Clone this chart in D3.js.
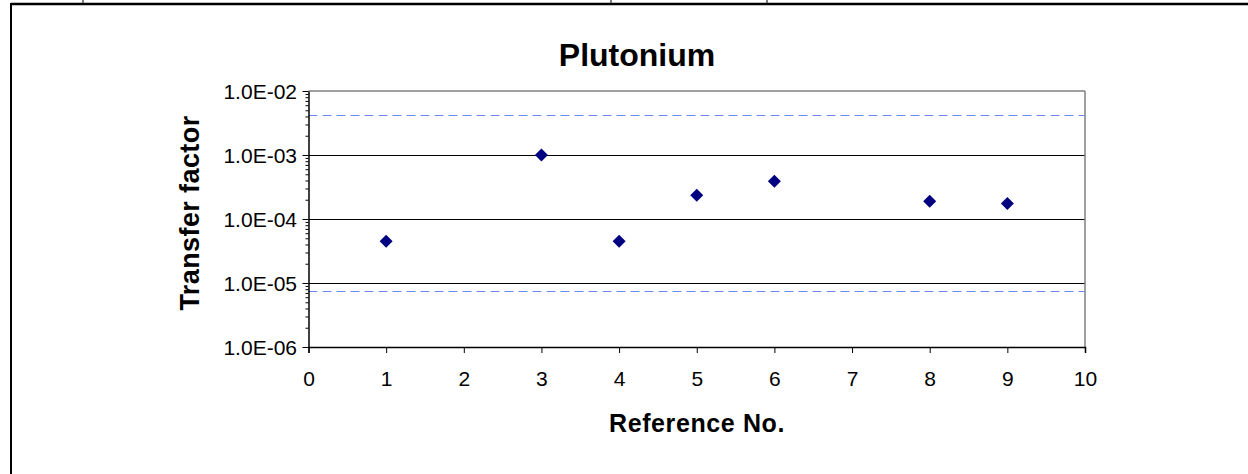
<!DOCTYPE html>
<html>
<head>
<meta charset="utf-8">
<script src="https://cdn.jsdelivr.net/npm/d3@7"></script>
<style>
  html, body { margin: 0; padding: 0; background: #fff; }
  svg { display: block; }
  text { font-family: "Liberation Sans", Arial, sans-serif; fill: #000; }
</style>
</head>
<body>
<svg id="chart" width="1248" height="474"></svg>
<script>
// ---- data ----
const refNo = [1, 3, 4, 5, 6, 8, 9];
const transferFactor = [4.5e-5, 1.0e-3, 4.5e-5, 2.35e-4, 3.9e-4, 1.9e-4, 1.75e-4];
const rangeLines = [4.2e-3, 7.4e-6];
const yTickValues = [1e-6, 1e-5, 1e-4, 1e-3, 1e-2];
const yTickLabels = ["1.0E-06", "1.0E-05", "1.0E-04", "1.0E-03", "1.0E-02"];
const xTickValues = [0, 1, 2, 3, 4, 5, 6, 7, 8, 9, 10];
const gridValues = [1e-5, 1e-4, 1e-3];
const titleText = "Plutonium";
const xTitle = "Reference No.";
const yTitle = "Transfer factor";

// ---- layout ----
const W = 1248, H = 474;
const L = 308.5, R = 1085, T = 91, B = 347;

const svg = d3.select("#chart");

const x = d3.scaleLinear().domain([0, 10]).range([L, R]);
const y = d3.scaleLog().domain([1e-6, 1e-2]).range([B, T]);

// page frame (table borders)
svg.append("line").attr("x1", 11).attr("x2", W).attr("y1", 4).attr("y2", 4)
  .attr("stroke", "#000").attr("stroke-width", 2.5);
svg.append("line").attr("x1", 11).attr("x2", 11).attr("y1", 3).attr("y2", H)
  .attr("stroke", "#000").attr("stroke-width", 2);
[83, 611, 767].forEach(px => {
  svg.append("line").attr("x1", px).attr("x2", px).attr("y1", 0).attr("y2", 4)
    .attr("stroke", "#000").attr("stroke-width", 1);
});

// gridlines
svg.append("g").selectAll("line").data(gridValues).join("line")
  .attr("x1", L).attr("x2", R)
  .attr("y1", d => Math.round(y(d)) + 0.5).attr("y2", d => Math.round(y(d)) + 0.5)
  .attr("stroke", "#000").attr("stroke-width", 1);

// plot border top/right (grey)
svg.append("line").attr("x1", L).attr("x2", R).attr("y1", T).attr("y2", T)
  .attr("stroke", "#808080").attr("stroke-width", 1.5);
svg.append("line").attr("x1", R).attr("x2", R).attr("y1", T).attr("y2", B)
  .attr("stroke", "#808080").attr("stroke-width", 1.5);

// dashed range lines
svg.append("g").selectAll("line").data(rangeLines).join("line")
  .attr("x1", L).attr("x2", R)
  .attr("y1", d => Math.round(y(d)) + 0.5).attr("y2", d => Math.round(y(d)) + 0.5)
  .attr("stroke", "#6b8af0").attr("stroke-width", 1)
  .attr("stroke-dasharray", "9,5");

// y axis
const yAxis = d3.axisLeft(y)
  .tickValues(y.ticks().filter(d => d >= 1e-6 && d <= 1e-2))
  .tickSize(0).tickFormat("");
const gy = svg.append("g").attr("transform", `translate(${L},0)`).call(yAxis);
gy.select(".domain").attr("stroke", "#000").attr("stroke-width", 1.5);
gy.selectAll(".tick line")
  .attr("x2", d => yTickValues.some(v => Math.abs(Math.log10(v) - Math.log10(d)) < 1e-6) ? -6 : -3)
  .attr("stroke", "#000").attr("stroke-width", 1);
svg.append("g").selectAll("text").data(yTickValues).join("text")
  .attr("x", 297).attr("y", d => y(d) + 7.5)
  .attr("text-anchor", "end").attr("font-size", 21)
  .text((d, i) => yTickLabels[i]);

// x axis
const xAxis = d3.axisBottom(x).tickValues(xTickValues).tickSize(6).tickPadding(18)
  .tickFormat(d3.format("d"));
const gx = svg.append("g").attr("transform", `translate(0,${B})`).call(xAxis);
gx.select(".domain").attr("stroke", "#000").attr("stroke-width", 1.5);
gx.selectAll(".tick line").attr("stroke", "#000");
gx.selectAll(".tick text").attr("font-size", 21).attr("font-family", "Liberation Sans, Arial, sans-serif")
  .attr("fill", "#000");

// points (diamonds)
const s = 6.5;
const diamond = `M0,${-s}L${s},0L0,${s}L${-s},0Z`;
svg.append("g").selectAll("path").data(refNo).join("path")
  .attr("d", diamond)
  .attr("transform", (d, i) => `translate(${x(d)},${y(transferFactor[i])})`)
  .attr("fill", "#000080");

// titles
svg.append("text").attr("x", 637).attr("y", 66).attr("text-anchor", "middle")
  .attr("font-size", 32).attr("font-weight", "bold").text(titleText);
svg.append("text").attr("x", 697).attr("y", 432).attr("text-anchor", "middle")
  .attr("font-size", 25).attr("font-weight", "bold").attr("letter-spacing", 0.6).text(xTitle);
svg.append("text").attr("transform", `translate(199,213) rotate(-90)`).attr("text-anchor", "middle")
  .attr("font-size", 27).attr("font-weight", "bold").attr("letter-spacing", 0.4).text(yTitle);
</script>
</body>
</html>
